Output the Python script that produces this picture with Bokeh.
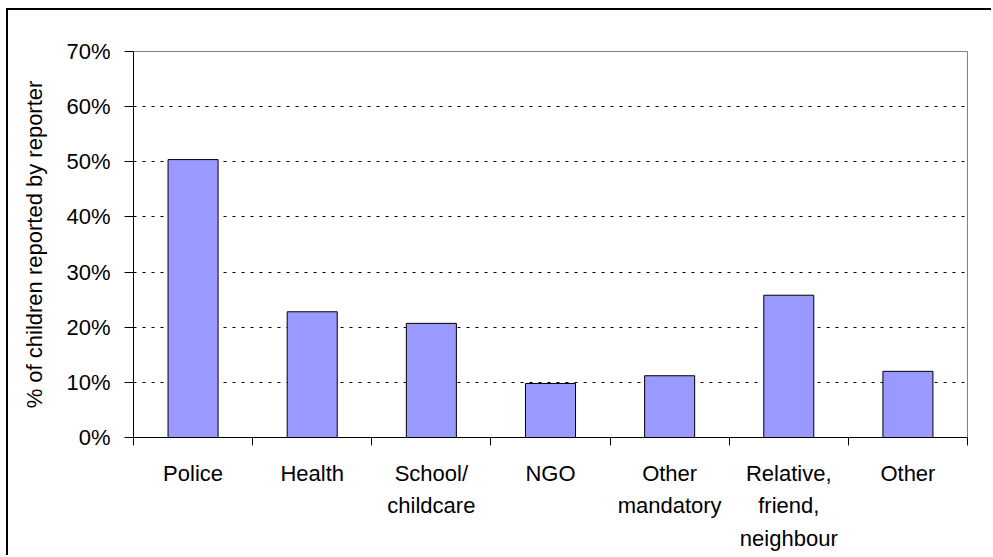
from bokeh.plotting import figure
from bokeh.models import Range1d, FixedTicker, PrintfTickFormatter
from bokeh.embed import file_html
from bokeh.resources import INLINE

# Who reported the children: share of children reported by each reporter type
categories = ["Police", "Health", "School/\nchildcare", "NGO",
              "Other\nmandatory", "Relative,\nfriend,\nneighbour", "Other"]
shares = [50.4, 22.8, 20.7, 9.8, 11.2, 25.8, 12.0]
y_ticks = [0, 10, 20, 30, 40, 50, 60, 70]

FONT = "Liberation Sans"
BAR_FILL = "#9999FF"

positions = [i + 0.5 for i in range(len(categories))]
boundaries = list(range(len(categories) + 1))

p = figure(width=985, height=547, output_backend="svg", toolbar_location=None,
           x_range=Range1d(0, len(categories)), y_range=Range1d(0, 70),
           min_border_left=125, min_border_right=26,
           min_border_top=41, min_border_bottom=120)

# outer chart border (left and top edges show inside the page)
p.styles = {"margin-left": "6px", "margin-top": "8px",
            "border-left": "2px solid black", "border-top": "2px solid black"}

p.background_fill_color = "white"
p.border_fill_color = "white"
p.outline_line_color = "#808080"
p.outline_line_width = 1

p.vbar(x=positions, top=shares, width=0.42,
       fill_color=BAR_FILL, line_color="black", line_width=1)

# y axis: percent ticks with dotted horizontal gridlines
p.yaxis.ticker = FixedTicker(ticks=y_ticks)
p.yaxis.formatter = PrintfTickFormatter(format="%d%%")
p.yaxis.axis_label = "% of children reported by reporter"
p.yaxis.axis_label_text_font = FONT
p.yaxis.axis_label_text_font_size = "22px"
p.yaxis.axis_label_text_font_style = "normal"
p.yaxis.axis_label_text_color = "black"
p.yaxis.axis_label_standoff = 16
p.yaxis.major_label_text_font = FONT
p.yaxis.major_label_text_font_size = "22px"
p.yaxis.major_label_text_color = "black"
p.yaxis.major_label_standoff = 14
p.yaxis.major_tick_in = 0
p.yaxis.major_tick_out = 9
p.yaxis.major_tick_line_color = "black"
p.yaxis.minor_tick_line_color = None
p.yaxis.axis_line_color = "black"

p.ygrid.ticker = FixedTicker(ticks=y_ticks)
p.ygrid.grid_line_color = "black"
p.ygrid.grid_line_dash = "3 6"
p.ygrid.grid_line_width = 1
p.xgrid.grid_line_color = None

# x axis: labels centred in each category, ticks on category boundaries
p.xaxis.ticker = FixedTicker(ticks=positions, minor_ticks=boundaries)
p.xaxis.major_label_overrides = {pos: name for pos, name in zip(positions, categories)}
p.xaxis.major_label_text_font = FONT
p.xaxis.major_label_text_font_size = "22px"
p.xaxis.major_label_text_color = "black"
p.xaxis.major_label_text_line_height = 1.3
p.xaxis.major_label_standoff = 15
p.xaxis.major_tick_line_color = None
p.xaxis.minor_tick_in = 0
p.xaxis.minor_tick_out = 8
p.xaxis.minor_tick_line_color = "black"
p.xaxis.axis_line_color = "black"

open("out.html", "w").write(file_html(p, INLINE))
